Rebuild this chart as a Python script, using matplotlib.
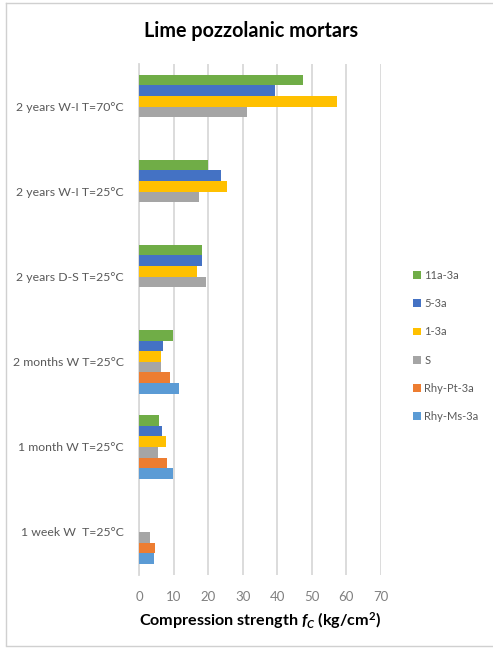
import matplotlib
matplotlib.use("Agg")
import matplotlib.pyplot as plt
import numpy as np
from matplotlib.lines import Line2D

categories = ["1 week W  T=25°C", "1 month W T=25°C", "2 months W T=25°C",
              "2 years D-S T=25°C", "2 years W-I T=25°C", "2 years W-I T=70°C"]
series_names = ["Rhy-Ms-3a", "Rhy-Pt-3a", "S", "1-3a", "5-3a", "11a-3a"]
colors = ["#5B9BD5", "#ED7D31", "#A5A5A5", "#FFC000", "#4472C4", "#70AD47"]
rhy_ms_3a = [4.3, 9.9, 11.4, np.nan, np.nan, np.nan]
rhy_pt_3a = [4.6, 8.0, 8.9, np.nan, np.nan, np.nan]
s_vals = [3.2, 5.5, 6.2, 19.3, 17.3, 31.3]
v_1_3a = [np.nan, 7.8, 6.4, 16.6, 25.3, 57.4]
v_5_3a = [np.nan, 6.6, 6.8, 18.2, 23.7, 39.3]
v_11a_3a = [np.nan, 5.6, 9.9, 18.2, 20.0, 47.4]
xticks = [0, 10, 20, 30, 40, 50, 60, 70]

data = [rhy_ms_3a, rhy_pt_3a, s_vals, v_1_3a, v_5_3a, v_11a_3a]

plt.rcParams['font.family'] = ['Lato', 'DejaVu Sans']
plt.rcParams['mathtext.fontset'] = 'custom'
plt.rcParams['mathtext.it'] = 'Lato:italic:bold'
plt.rcParams['mathtext.rm'] = 'Lato:bold'

fig = plt.figure(figsize=(4.93, 6.48), dpi=100)
ax = fig.add_axes([139.3 / 493, 1 - 574.5 / 648, 241.4 / 493, 510.5 / 648])

n = len(series_names)
bw = 0.75 / n
y = np.arange(len(categories))
for i, (name, vals, c) in enumerate(zip(series_names, data, colors)):
    offs = (i - (n - 1) / 2) * bw
    ax.barh(y + offs, vals, height=bw, color=c, label=name, zorder=3)

ax.set_xlim(0, 70)
ax.set_ylim(-0.5, len(categories) - 0.5)
ax.set_xticks(xticks)
ax.set_yticks(y)
ax.set_yticklabels(categories, fontsize=8.8, color="#595959")
ax.tick_params(axis="x", labelsize=9.5, labelcolor="#808080", length=0, pad=12)
ax.tick_params(axis="y", length=0, pad=11)
ax.grid(axis="x", color="#d9d9d9", linewidth=1.3, zorder=0)
for s in ["top", "right", "bottom"]:
    ax.spines[s].set_visible(False)
ax.spines["left"].set_color("#d9d9d9")
ax.spines["left"].set_linewidth(1.3)

ax.set_xlabel(r"Compression strength $f_C$ (kg/cm$^2$)", fontsize=11.6,
              fontweight="bold", labelpad=5)

fig.text(0.51, 1 - 31 / 648, "Lime pozzolanic mortars", ha="center", va="center",
         fontsize=14.2, fontweight="bold")

handles, labels = ax.get_legend_handles_labels()
leg = fig.legend(handles[::-1], labels[::-1], loc="center left",
                 bbox_to_anchor=(403 / 493, 1 - 346 / 648), frameon=False,
                 fontsize=8, handlelength=0.7, handleheight=0.7,
                 handletextpad=0.3, labelspacing=1.55, labelcolor="#595959")

# outer frame
fig.add_artist(Line2D([6 / 493, 6 / 493], [3 / 648, 1 - 3 / 648], color="#d0d0d0", lw=1))
fig.add_artist(Line2D([6 / 493, 1], [1 - 3 / 648, 1 - 3 / 648], color="#d0d0d0", lw=1))
fig.add_artist(Line2D([6 / 493, 1], [2 / 648, 2 / 648], color="#d0d0d0", lw=1))

fig.savefig("out.png", dpi=100)
